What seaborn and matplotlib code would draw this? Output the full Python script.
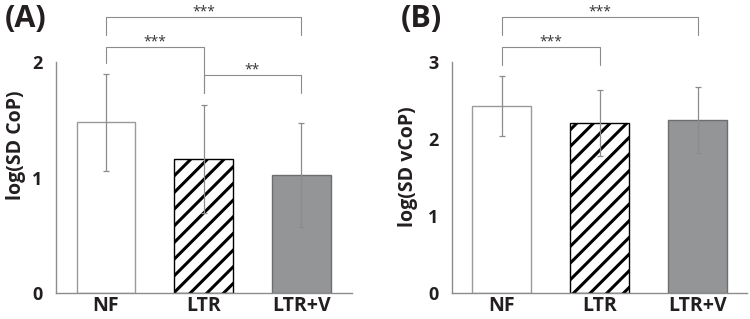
import matplotlib
matplotlib.use("Agg")
import matplotlib.pyplot as plt
import seaborn as sns
import pandas as pd

# data
categories = ["NF", "LTR", "LTR+V"]
cop_mean = [1.48, 1.16, 1.02]
cop_sd = [0.42, 0.47, 0.45]
vcop_mean = [2.43, 2.21, 2.25]
vcop_sd = [0.39, 0.43, 0.43]

# significance brackets: (left, right, height, leg drops, label)
cop_sig = [(0, 2, 2.39, (0.16, 0.16), "***"),
           (0, 1, 2.13, (0.14, 0.40), "***"),
           (1, 2, 1.89, (0.16, 0.16), "**")]
vcop_sig = [(0, 2, 3.59, (0.24, 0.24), "***"),
            (0, 1, 3.20, (0.24, 0.24), "***")]

sns.set_style("white")
plt.rcParams["font.family"] = ["Open Sans", "DejaVu Sans"]
plt.rcParams["font.weight"] = "bold"
plt.rcParams["hatch.linewidth"] = 2.2

fills = ["#ffffff", "#ffffff", "#939598"]
edges = ["#9a9a9a", "#000000", "#6d6e71"]
hatches = ["", "//", ""]
grey = "#8c8c8c"
dark = "#231f20"


def draw_panel(ax, means, sds, sig, ylabel, ymax, ytop, xlim, label_x, label_y):
    df = pd.DataFrame({"cond": categories, "val": means})
    sns.barplot(data=df, x="cond", y="val", hue="cond", order=categories,
                hue_order=categories, palette=fills, width=0.6,
                errorbar=None, legend=False, ax=ax)
    for p, ec, h in zip(ax.patches, edges, hatches):
        p.set_edgecolor(ec)
        p.set_linewidth(1.0)
        p.set_hatch(h)
    ax.errorbar(range(len(categories)), means, yerr=sds, fmt="none",
                ecolor=grey, elinewidth=0.9, capsize=2, capthick=0.9, zorder=5)

    for x1, x2, h, (d1, d2), txt in sig:
        ax.plot([x1, x1, x2, x2], [h - d1, h, h, h - d2], color=grey,
                lw=0.8, clip_on=False)
        ax.annotate(txt, ((x1 + x2) / 2, h), xytext=(0, 1),
                    textcoords="offset points", ha="center", va="baseline",
                    fontsize=10, color="#333333", fontweight="normal",
                    annotation_clip=False)

    ax.set_xlim(*xlim)
    ax.set_ylim(0, ymax)
    ax.set_yticks(range(ytop + 1))
    ax.spines["left"].set_bounds(0, ytop)
    for s in ["top", "right"]:
        ax.spines[s].set_visible(False)
    for s in ["left", "bottom"]:
        ax.spines[s].set_color(grey)
        ax.spines[s].set_linewidth(1.0)
    ax.tick_params(axis="y", length=6.5, width=0.8, color=grey, pad=3,
                   labelsize=13, labelcolor=dark)
    ax.tick_params(axis="x", length=0, pad=2.5, labelsize=14, labelcolor=dark)
    ax.set_xlabel("")
    ax.set_ylabel(ylabel, fontsize=14, fontweight="bold", color=dark)
    ax.yaxis.set_label_coords(label_x, label_y)


fig = plt.figure(figsize=(7.5, 3.19), dpi=100)
ax_a = fig.add_axes([56 / 750, 26 / 319, 296 / 750, 293 / 319])
ax_b = fig.add_axes([452 / 750, 26 / 319, 295 / 750, 293 / 319])

draw_panel(ax_a, cop_mean, cop_sd, cop_sig, "log(SD CoP)", 2.537, 2,
           (-0.51, 2.52), -0.101, 0.505)
draw_panel(ax_b, vcop_mean, vcop_sd, vcop_sig, "log(SD vCoP)", 3.81, 3,
           (-0.505, 2.5), -0.115, 0.43)

fig.text(5 / 750, 1 - 19 / 319, "(A)", fontsize=22, fontweight="bold",
         va="center", ha="left", color=dark)
fig.text(401 / 750, 1 - 19 / 319, "(B)", fontsize=22, fontweight="bold",
         va="center", ha="left", color=dark)

fig.savefig("out.png", dpi=100)
